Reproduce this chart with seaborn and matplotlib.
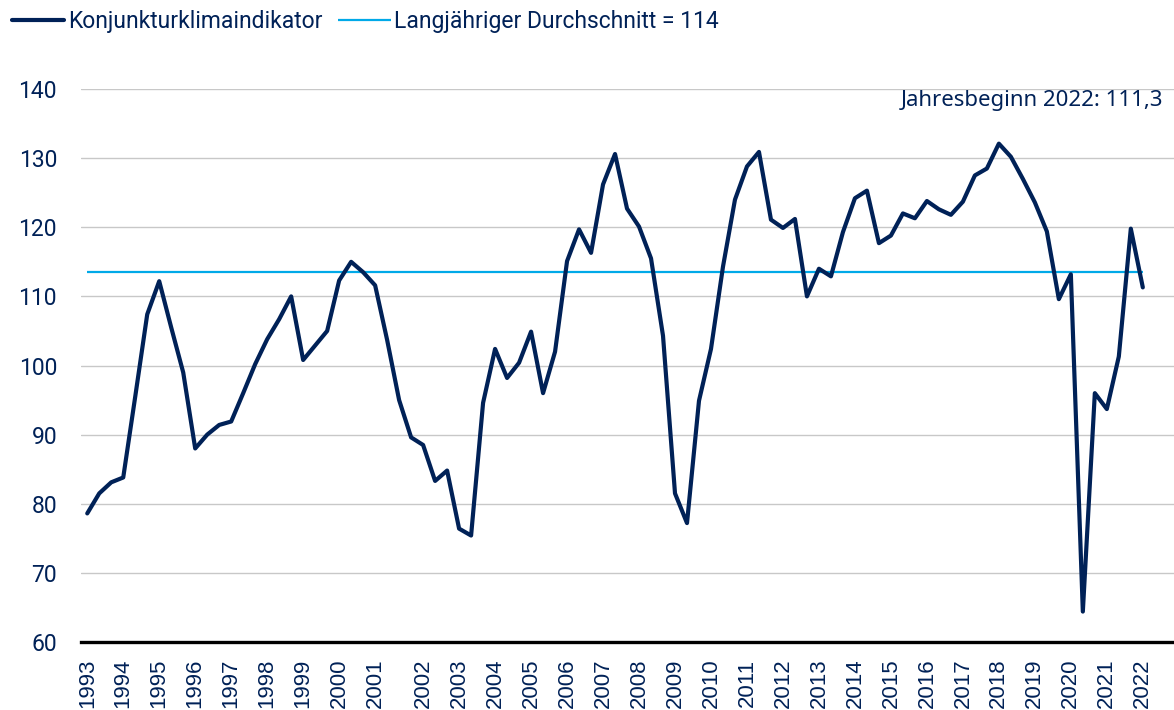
import matplotlib
matplotlib.use("Agg")
import matplotlib.pyplot as plt
from matplotlib.font_manager import FontProperties
import pandas as pd
import seaborn as sns

# DIHK Konjunkturklimaindikator, three surveys per year (2001: four)
years = list(range(1993, 2023))
surveys_per_year = [3] * 8 + [4] + [3] * 20 + [1]

klima = [
    78.6, 81.5, 83.1, 83.8, 95.5, 107.4, 112.2, 105.5, 99.0, 88.0,
    90.0, 91.4, 91.9, 96.0, 100.2, 103.8, 106.7, 110.0, 100.8, 102.9,
    105.0, 112.3, 115.0, 113.5, 111.6, 103.7, 95.0, 89.6, 88.5, 83.3,
    84.8, 76.4, 75.4, 94.6, 102.4, 98.2, 100.4, 104.9, 96.0, 102.0,
    115.1, 119.7, 116.3, 126.2, 130.6, 122.7, 120.1, 115.5, 104.3, 81.5,
    77.2, 94.9, 102.4, 114.3, 124.0, 128.8, 130.9, 121.1, 119.9, 121.2,
    110.0, 114.0, 112.9, 119.3, 124.2, 125.3, 117.7, 118.8, 122.0, 121.3,
    123.8, 122.6, 121.8, 123.7, 127.5, 128.5, 132.1, 130.2, 127.0, 123.6,
    119.4, 109.6, 113.2, 64.4, 96.0, 93.7, 101.3, 119.8, 111.3,
]
durchschnitt = 113.6

navy = "#002157"
light_blue = "#00a9e8"

df = pd.DataFrame({"umfrage": range(len(klima)), "wert": klima})

# tick position = first survey of each year
tick_pos = []
pos = 0
for n in surveys_per_year:
    tick_pos.append(pos)
    pos += n

sns.set_style("white")
legend_font = FontProperties(family="Roboto", size=16.5)
ytick_font = FontProperties(family="Roboto", size=16.5)
note_font = FontProperties(family="Noto Sans", size=16)

fig = plt.figure(figsize=(11.74, 7.10), dpi=100)
ax = fig.add_axes([0.0687, 0.0958, 0.9313, 0.7788])

sns.lineplot(data=df, x="umfrage", y="wert", ax=ax, color=navy,
             linewidth=3.0, label="Konjunkturklimaindikator", zorder=3)
ax.hlines(durchschnitt, df["umfrage"].min(), df["umfrage"].max(),
          color=light_blue, linewidth=1.6, zorder=2,
          label="Langjähriger Durchschnitt = 114")

ax.set_ylim(60, 140)
ax.set_xlim(-0.55, 90.6)
ax.set_yticks(range(60, 141, 10))
ax.yaxis.grid(True, color="#c8c8c8", linewidth=1.0)
ax.xaxis.grid(False)
ax.set_xticks(tick_pos)
ax.set_xticklabels([str(y) for y in years], rotation=90,
                   fontsize=16, color=navy, family="Liberation Sans")
for lab in ax.get_yticklabels():
    lab.set_fontproperties(ytick_font)
    lab.set_color(navy)
ax.tick_params(axis="both", length=0)
ax.tick_params(axis="x", pad=12)
ax.tick_params(axis="y", pad=17)
ax.set_xlabel("")
ax.set_ylabel("")

for side in ["left", "right", "top"]:
    ax.spines[side].set_visible(False)
ax.spines["bottom"].set_color("black")
ax.spines["bottom"].set_linewidth(2.4)
ax.spines["bottom"].set_zorder(4)

ax.text(0.99, 138.3, "Jahresbeginn 2022: 111,3",
        transform=ax.get_yaxis_transform(), ha="right", va="center",
        fontproperties=note_font, color=navy)

ax.get_legend().remove()
handles, labels = ax.get_legend_handles_labels()
fig.legend(handles, labels, loc="upper left", bbox_to_anchor=(0.004, 0.995),
           ncol=2, frameon=False, handlelength=2.3, handletextpad=0.15,
           columnspacing=0.7, borderaxespad=0.0, borderpad=0.3,
           prop=legend_font, labelcolor=navy)

fig.savefig("out.png", dpi=100)
